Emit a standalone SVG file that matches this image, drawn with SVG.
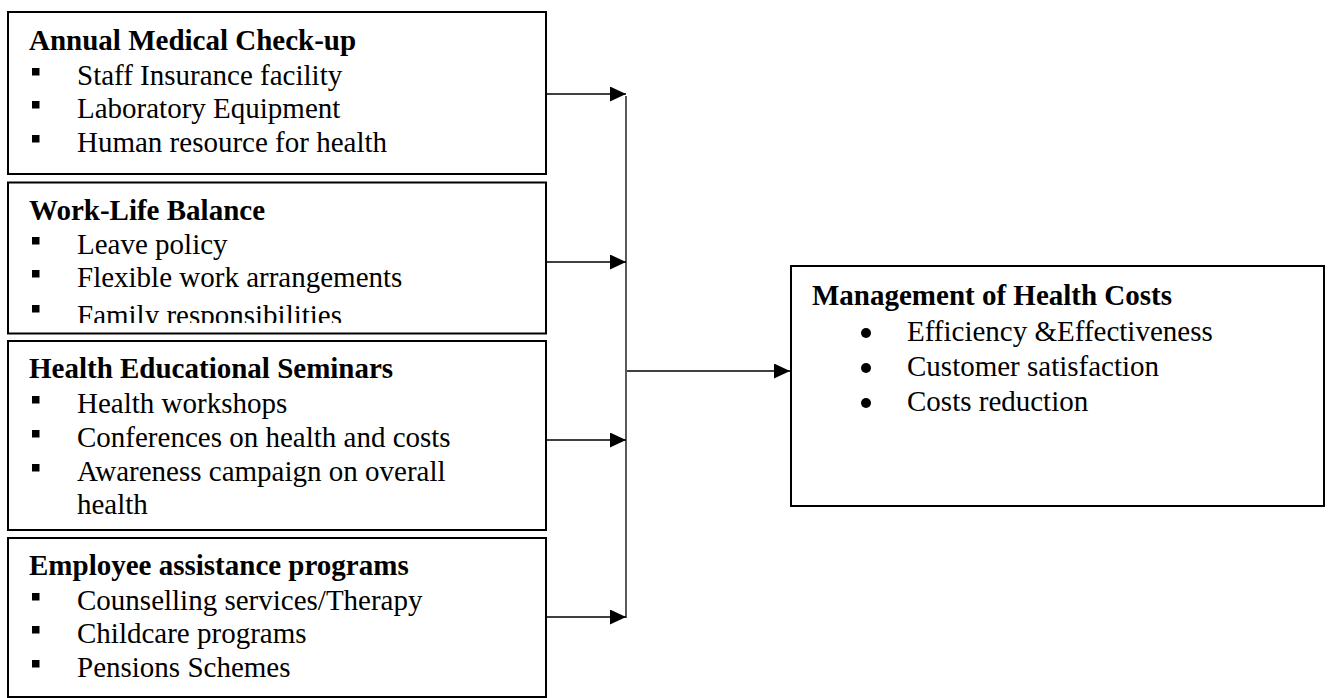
<svg xmlns="http://www.w3.org/2000/svg" width="1330" height="698" viewBox="0 0 1330 698">
<style>
.box{fill:#fff;stroke:#000;stroke-width:2}
.t{font-family:"Liberation Serif","Times New Roman",serif;font-size:29px;fill:#000}
.b{font-weight:bold}
.sq{fill:#000}
.conn{stroke:#000;stroke-width:1.3;fill:none}
</style>
<defs>
<marker id="ah" markerUnits="userSpaceOnUse" markerWidth="16" markerHeight="16" refX="16" refY="7.5" orient="auto">
<path d="M0,0 L16,7.5 L0,15 Z" fill="#000"/>
</marker>
<clipPath id="clip2"><rect x="8" y="182" width="538" height="141"/></clipPath>
</defs>
<rect width="1330" height="698" fill="#fff"/>

<g id="node-annual">
<rect class="box" x="8" y="12" width="538" height="162"/>
<text class="t b" x="29" y="50">Annual Medical Check-up</text>
<rect class="sq" x="32" y="68" width="7.5" height="7.5"/>
<text class="t" x="77" y="85">Staff Insurance facility</text>
<rect class="sq" x="32" y="101" width="7.5" height="7.5"/>
<text class="t" x="77" y="118">Laboratory Equipment</text>
<rect class="sq" x="32" y="135" width="7.5" height="7.5"/>
<text class="t" x="77" y="152">Human resource for health</text>
</g>

<g id="node-worklife">
<rect class="box" x="8" y="182.5" width="538" height="151"/>
<text class="t b" x="29" y="220">Work-Life Balance</text>
<rect class="sq" x="32" y="237" width="7.5" height="7.5"/>
<text class="t" x="77" y="254">Leave policy</text>
<rect class="sq" x="32" y="270" width="7.5" height="7.5"/>
<text class="t" x="77" y="287">Flexible work arrangements</text>
<rect class="sq" x="32" y="305" width="7.5" height="7.5"/>
<text class="t" x="77" y="325" clip-path="url(#clip2)">Family responsibilities</text>
</g>

<g id="node-seminars">
<rect class="box" x="8" y="341" width="538" height="189"/>
<text class="t b" x="29" y="378">Health Educational Seminars</text>
<rect class="sq" x="32" y="396" width="7.5" height="7.5"/>
<text class="t" x="77" y="413">Health workshops</text>
<rect class="sq" x="32" y="430" width="7.5" height="7.5"/>
<text class="t" x="77" y="447">Conferences on health and costs</text>
<rect class="sq" x="32" y="464" width="7.5" height="7.5"/>
<text class="t" x="77" y="481">Awareness campaign on overall</text>
<text class="t" x="77" y="514">health</text>
</g>

<g id="node-assistance">
<rect class="box" x="8" y="538" width="538" height="159"/>
<text class="t b" x="29" y="575">Employee assistance programs</text>
<rect class="sq" x="32" y="593" width="7.5" height="7.5"/>
<text class="t" x="77" y="610">Counselling services/Therapy</text>
<rect class="sq" x="32" y="626" width="7.5" height="7.5"/>
<text class="t" x="77" y="643">Childcare programs</text>
<rect class="sq" x="32" y="660" width="7.5" height="7.5"/>
<text class="t" x="77" y="677">Pensions Schemes</text>
</g>

<g id="node-management">
<rect class="box" x="791" y="266" width="533" height="240"/>
<text class="t b" x="812" y="305">Management of Health Costs</text>
<circle cx="866" cy="333" r="5"/>
<text class="t" x="907" y="341">Efficiency &amp;Effectiveness</text>
<circle cx="866" cy="368" r="5"/>
<text class="t" x="907" y="376">Customer satisfaction</text>
<circle cx="866" cy="403" r="5"/>
<text class="t" x="907" y="411">Costs reduction</text>
</g>

<g id="connectors">
<line class="conn" x1="547" y1="94" x2="626" y2="94" marker-end="url(#ah)"/>
<line class="conn" x1="547" y1="262" x2="626" y2="262" marker-end="url(#ah)"/>
<line class="conn" x1="547" y1="440" x2="626" y2="440" marker-end="url(#ah)"/>
<line class="conn" x1="547" y1="617" x2="626" y2="617" marker-end="url(#ah)"/>
<line class="conn" x1="626" y1="96" x2="626" y2="618"/>
<line class="conn" x1="627" y1="371" x2="790" y2="371" marker-end="url(#ah)"/>
</g>
</svg>
